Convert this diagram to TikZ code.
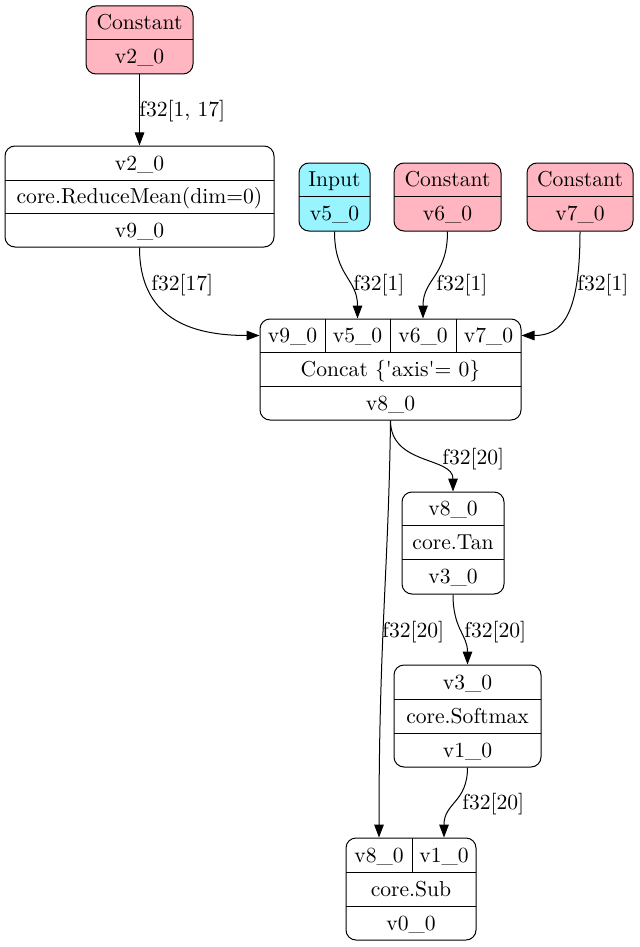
\documentclass[tikz,border=0pt]{standalone}
\usetikzlibrary{arrows.meta}
\definecolor{cpink}{HTML}{FFB6C1}
\definecolor{ccyan}{HTML}{98F5FF}
\begin{document}
\begin{tikzpicture}[x=0.5pt,y=-0.5pt,
 box/.style={draw=black, line width=0.5pt, rounded corners=5pt, inner sep=0pt},
 txt/.style={inner sep=0pt, font=\fontsize{10.8}{13}\selectfont, text height=8pt, text depth=1pt},
 lab/.style={txt, anchor=west},
 sep/.style={line width=0.5pt},
 edge/.style={line width=0.5pt, -{Triangle[length=6.5pt,width=4.8pt]}}]
\useasboundingbox (0,0) rectangle (640,947);

% Constant v2_0
\node[box, fill=cpink, minimum width=53.5pt, minimum height=34pt] (c2) at (139.5,40) {};
\draw[sep] (86,40) -- (193,40);
\node[txt] (c2a) at (139.5,23) {Constant};
\node[txt] (c2b) at (139.5,57) {v2\_0};

% ReduceMean
\node[box, fill=white, minimum width=134.5pt, minimum height=50.5pt] (rm) at (139.5,196.5) {};
\draw[sep] (5,180) -- (274,180);
\draw[sep] (5,213) -- (274,213);
\node[txt] (rma) at (139.5,163) {v2\_0};
\node[txt] (rmb) at (139.5,196.5) {core.ReduceMean(dim=0)};
\node[txt] (rmc) at (139.5,230) {v9\_0};

% Input v5_0
\node[box, fill=ccyan, minimum width=35.5pt, minimum height=34pt] (in) at (334.5,197) {};
\draw[sep] (299,196) -- (370,196);
\node[txt] (ina) at (334.5,179.5) {Input};
\node[txt] (inb) at (334.5,213.5) {v5\_0};

% Constant v6_0
\node[box, fill=cpink, minimum width=53.5pt, minimum height=34pt] (c6) at (447.5,197) {};
\draw[sep] (394,196) -- (501,196);
\node[txt] (c6a) at (447.5,179.5) {Constant};
\node[txt] (c6b) at (447.5,213.5) {v6\_0};

% Constant v7_0
\node[box, fill=cpink, minimum width=53pt, minimum height=34pt] (c7) at (580,197) {};
\draw[sep] (527,196) -- (633,196);
\node[txt] (c7a) at (580,179.5) {Constant};
\node[txt] (c7b) at (580,213.5) {v7\_0};

% Concat
\node[box, fill=white, minimum width=130.5pt, minimum height=50.5pt] (cc) at (390.5,369.5) {};
\draw[sep] (260,352) -- (521,352);
\draw[sep] (260,386) -- (521,386);
\draw[sep] (325,319) -- (325,352);
\draw[sep] (390,319) -- (390,352);
\draw[sep] (456,319) -- (456,352);
\node[txt] (t9) at (292.5,335.5) {v9\_0};
\node[txt] (t5) at (357.5,335.5) {v5\_0};
\node[txt] (t6) at (423,335.5) {v6\_0};
\node[txt] (t7) at (488.5,335.5) {v7\_0};
\node[txt] (ccb) at (390.5,369) {Concat \{\textquotesingle axis\textquotesingle= 0\}};
\node[txt] (ccc) at (390.5,403) {v8\_0};

% Tan
\node[box, fill=white, minimum width=51pt, minimum height=51pt] (tan) at (453,543) {};
\draw[sep] (402,525) -- (504,525);
\draw[sep] (402,559) -- (504,559);
\node[txt] (tana) at (453,508.5) {v8\_0};
\node[txt] (tanb) at (453,542) {core.Tan};
\node[txt] (tanc) at (453,576.5) {v3\_0};

% Softmax
\node[box, fill=white, minimum width=73.5pt, minimum height=51pt] (sm) at (467.5,716) {};
\draw[sep] (394,699) -- (541,699);
\draw[sep] (394,733) -- (541,733);
\node[txt] (sma) at (467.5,682) {v3\_0};
\node[txt] (smb) at (467.5,716) {core.Softmax};
\node[txt] (smc) at (467.5,750) {v1\_0};

% Sub
\node[box, fill=white, minimum width=65pt, minimum height=51pt] (sub) at (411,889) {};
\draw[sep] (346,872) -- (476,872);
\draw[sep] (346,906) -- (476,906);
\draw[sep] (412,838) -- (412,872);
\node[txt] (s8) at (379,855) {v8\_0};
\node[txt] (s1) at (444,855) {v1\_0};
\node[txt] (subb) at (411,889) {core.Sub};
\node[txt] (subc) at (411,923) {v0\_0};

% edges
\draw[edge] (c2.south) -- (rm.north);
\draw[edge] (rm.south) .. controls +(0,70) and +(-70,0) .. (cc.west |- t9);
\draw[edge] (in.south) .. controls +(0,45) and +(0,-40) .. (t5 |- cc.north);
\draw[edge] (c6.south) .. controls +(0,45) and +(0,-40) .. (t6 |- cc.north);
\draw[edge] (c7.south) .. controls +(0,85) and +(40,0) .. (cc.east |- t7);
\draw[edge] (cc.south) .. controls +(0,45) and +(0,-35) .. (tan.north);
\draw[edge] (cc.south) .. controls +(-2,150) and +(0,-200) .. (s8 |- sub.north);
\draw[edge] (tan.south) .. controls +(0,35) and +(0,-30) .. (sm.north);
\draw[edge] (sm.south) .. controls +(0,35) and +(0,-35) .. (s1 |- sub.north);

% edge labels
\node[lab] (l1) at (139,110) {f32[1, 17]};
\node[lab] (l2) at (151,283) {f32[17]};
\node[lab] (l3) at (353,283) {f32[1]};
\node[lab] (l4) at (436,283) {f32[1]};
\node[lab] (l5) at (577,283) {f32[1]};
\node[lab] (l6) at (442,457) {f32[20]};
\node[lab] (l7) at (382,630) {f32[20]};
\node[lab] (l8) at (464,630) {f32[20]};
\node[lab] (l9) at (462,802) {f32[20]};
\end{tikzpicture}
\end{document}
